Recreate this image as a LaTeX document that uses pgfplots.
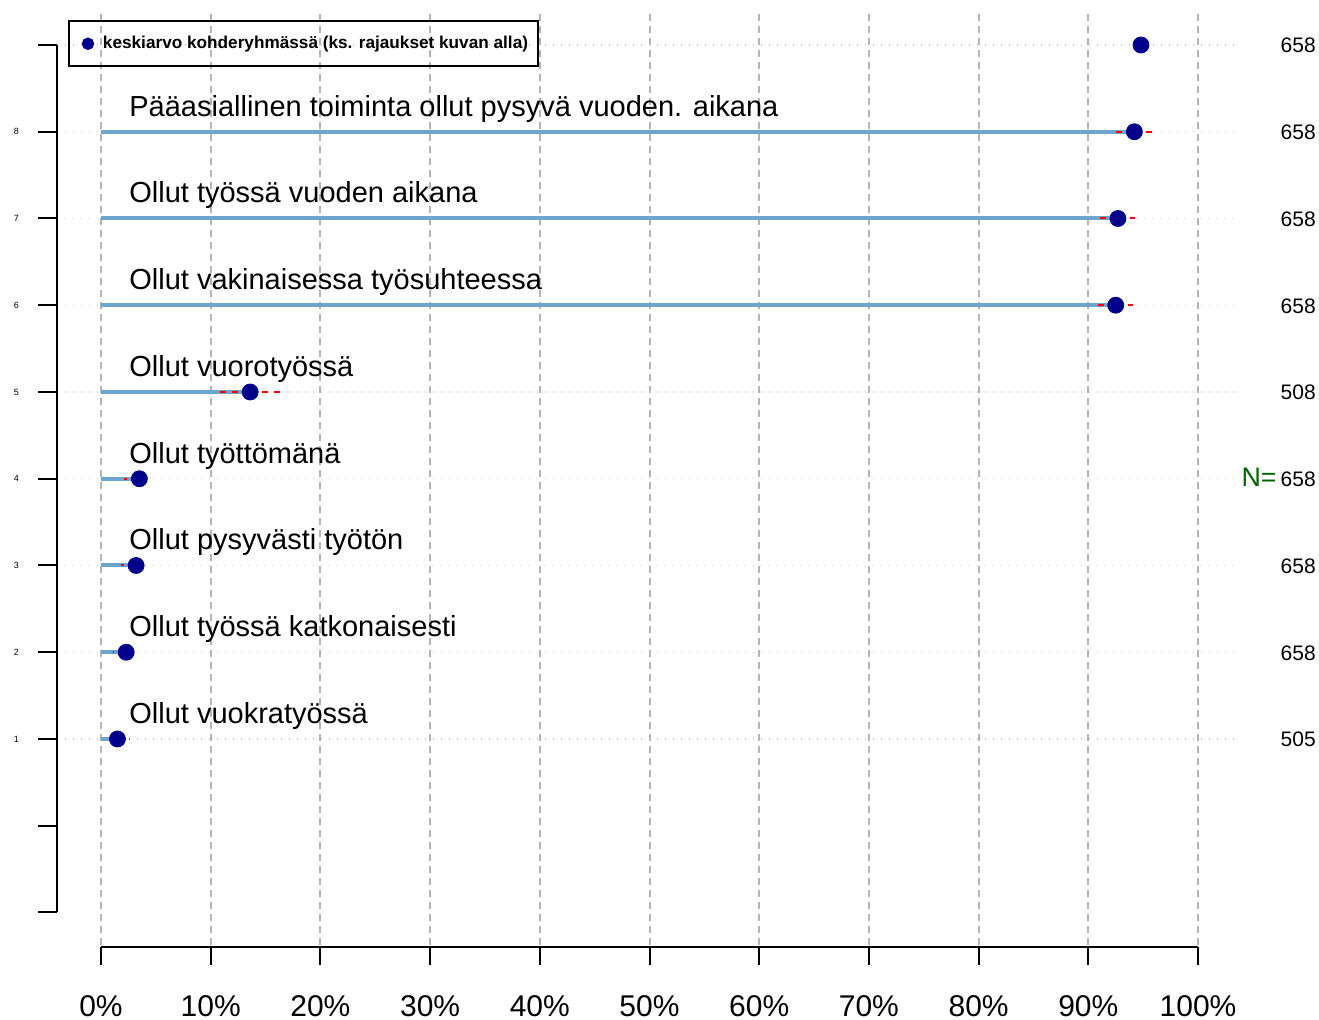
\documentclass[border=0pt]{standalone}
\usepackage{fontspec}
\setmainfont{Liberation Sans}
\usepackage{pgfplots}
\usepackage{pgfplotstable}
\pgfplotsset{compat=1.18}

\definecolor{barblue}{RGB}{108,166,205}
\definecolor{dotblue}{RGB}{0,0,139}
\definecolor{ngreen}{RGB}{0,100,0}
\definecolor{gridgray}{RGB}{180,180,180}
\definecolor{dotgray}{RGB}{205,205,205}

% row, mean, lower and upper limit (%)
\pgfplotstableread{
row mean lo hi
8 94.2 92.3 96.0
7 92.7 90.7 94.3
6 92.5 90.5 94.1
5 13.6 10.6 16.6
4 3.5 2.1 4.2
3 3.2 1.8 3.9
2 2.3 1.1 3.2
1 1.5 0.5 2.6
}\rows

\pgfplotsset{rowaxis/.style={x=5.485pt, y=43.375pt, anchor=origin, at={(0,0)}, clip=false}}

\begin{document}
\begin{tikzpicture}
\useasboundingbox (-50.5pt,-97.125pt) rectangle (609pt,412.875pt);

% data
\begin{axis}[rowaxis,
    xmin=-4.01, xmax=103.83, ymin=-1.375, ymax=9.38,
    axis line style={draw=none},
    xtick={0,10,...,100}, ytick={1,...,9},
    xticklabels={}, yticklabels={},
    major tick length=0pt,
    xmajorgrids, ymajorgrids,
    x grid style={gridgray, line width=1pt, dash pattern=on 3.5pt off 2.5pt},
    y grid style={dotgray, line width=0.6pt, dash pattern=on 0.6pt off 3.4pt},
    legend style={at={(axis cs:-3.01,9.288)}, anchor=north west,
        draw=black, line width=1pt, fill=none,
        font=\bfseries\fontsize{8.6}{10}\selectfont,
        inner xsep=3pt, inner ysep=5.5pt},
    legend image code/.code={\path[draw=none, fill=none] (0pt,0pt) rectangle (12pt,0pt);
        \fill[dotblue] (6.5pt,0pt) circle (2.6pt);},
]
\addplot[xcomb, barblue, line width=2pt, no marks, forget plot]
    table[x=mean, y=row] {\rows};
\addplot[only marks, mark=*, mark size=4pt, dotblue]
    coordinates {(94.8,9) (94.2,8) (92.7,7) (92.5,6) (13.6,5) (3.5,4) (3.2,3) (2.3,2) (1.5,1)};
\addlegendentry{keskiarvo kohderyhmässä (ks. rajaukset kuvan alla)}
\addplot[draw=none, no marks, forget plot,
    error bars/.cd, x dir=both, x explicit, error mark=none,
    error bar style={red, line width=1pt, dash pattern=on 3pt off 3pt}]
    table[x=mean, y=row,
          x error minus expr=\thisrow{mean}-\thisrow{lo},
          x error plus expr=\thisrow{hi}-\thisrow{mean}] {\rows};

\begin{scope}[every node/.style={anchor=base west, inner sep=0pt, font=\fontsize{14.5}{17}\selectfont}]
\node at (axis cs:2.55,8.18) {Pääasiallinen toiminta ollut pysyvä vuoden. aikana};
\node at (axis cs:2.55,7.18) {Ollut työssä vuoden aikana};
\node at (axis cs:2.55,6.18) {Ollut vakinaisessa työsuhteessa};
\node at (axis cs:2.55,5.18) {Ollut vuorotyössä};
\node at (axis cs:2.55,4.18) {Ollut työttömänä};
\node at (axis cs:2.55,3.18) {Ollut pysyvästi työtön};
\node at (axis cs:2.55,2.18) {Ollut työssä katkonaisesti};
\node at (axis cs:2.55,1.18) {Ollut vuokratyössä};
\end{scope}

\begin{scope}[every node/.style={anchor=base west, inner sep=0pt, font=\fontsize{10.5}{12}\selectfont}]
\node at (axis cs:107.5,8.908) {658};
\node at (axis cs:107.5,7.908) {658};
\node at (axis cs:107.5,6.908) {658};
\node at (axis cs:107.5,5.908) {658};
\node at (axis cs:107.5,4.908) {508};
\node at (axis cs:107.5,3.908) {658};
\node at (axis cs:107.5,2.908) {658};
\node at (axis cs:107.5,1.908) {658};
\node at (axis cs:107.5,0.908) {505};
\end{scope}
\node[anchor=base east, inner sep=0pt, text=ngreen, font=\fontsize{13.4}{15}\selectfont]
    at (axis cs:107.2,3.908) {N=};
\end{axis}

% x axis
\begin{axis}[rowaxis,
    xmin=0, xmax=100, ymin=-1.398, ymax=0,
    axis x line*=bottom, hide y axis,
    x axis line style={-, line width=1pt},
    xtick={0,10,...,100},
    xticklabels={0\%,10\%,20\%,30\%,40\%,50\%,60\%,70\%,80\%,90\%,100\%},
    tick align=outside, major tick length=9pt,
    every tick/.style={black, line width=1pt},
    xticklabel style={font=\fontsize{15}{18}\selectfont, yshift=-11.5pt},
]
\end{axis}

% y axis
\begin{axis}[rowaxis,
    xmin=-4.01, xmax=0, ymin=-1, ymax=9,
    axis y line*=left, hide x axis,
    y axis line style={-, line width=1pt},
    ytick={-1,...,9},
    yticklabels={,,1,2,3,4,5,6,7,8,},
    tick align=outside, major tick length=9.5pt,
    every tick/.style={black, line width=1pt},
    yticklabel style={font=\fontsize{4.5}{5}\selectfont, xshift=-6pt},
]
\end{axis}
\end{tikzpicture}
\end{document}
